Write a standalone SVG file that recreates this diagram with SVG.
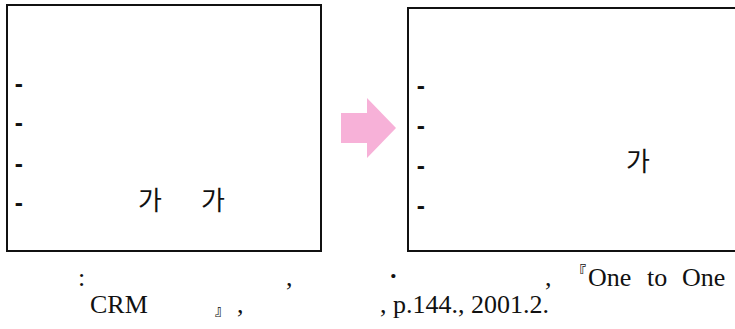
<svg xmlns="http://www.w3.org/2000/svg" width="735" height="329" viewBox="0 0 735 329">
<style>
.box{fill:#fff;stroke:#111;stroke-width:2}
.dash{font-family:"Noto Sans","DejaVu Sans",sans-serif;font-size:24px;font-weight:bold;fill:#111}
.ko{font-family:"Noto Sans CJK KR",sans-serif;font-size:26px;fill:#111}
.cap{font-size:26px;fill:#111}
.br{font-family:"Noto Sans CJK KR",sans-serif;font-size:14px;font-weight:bold;fill:#111}
</style>
<rect width="735" height="329" fill="#fff"/>
<g id="before">
<rect class="box" x="7" y="5" width="314" height="246"/>
<text class="dash" x="15" y="92">-</text>
<text class="dash" x="15" y="131">-</text>
<text class="dash" x="15" y="172">-</text>
<text class="dash" x="15" y="211">-</text>
<text class="ko" x="138" y="210">가</text>
<text class="ko" x="201" y="210">가</text>
</g>
<g id="connectors">
<polygon points="341,113 367,113 367,98 396,128 367,158 367,143 341,143" fill="#f7b1d8"/>
</g>
<g id="after">
<rect class="box" x="408" y="8" width="340" height="243"/>
<text class="dash" x="417" y="94">-</text>
<text class="dash" x="417" y="134">-</text>
<text class="dash" x="417" y="174">-</text>
<text class="dash" x="417" y="214">-</text>
<text class="ko" x="626" y="171">가</text>
</g>
<g id="caption" font-family="Liberation Serif, Times New Roman, Times, serif">
<text class="cap" x="78" y="286">:</text>
<text class="cap" x="286" y="286">,</text>
<text class="cap" x="389" y="284" font-weight="bold">·</text>
<text class="cap" x="545" y="286">,</text>
<text class="br" x="572" y="276">『</text>
<text class="cap" x="588" y="286">One</text>
<text class="cap" x="647" y="286">to</text>
<text class="cap" x="682" y="286">One</text>
<text class="cap" x="90" y="313">CRM</text>
<text class="br" x="215" y="315">』</text>
<text class="cap" x="237" y="313">,</text>
<text class="cap" x="380" y="313">, p.144., 2001.2.</text>
</g>
</svg>
